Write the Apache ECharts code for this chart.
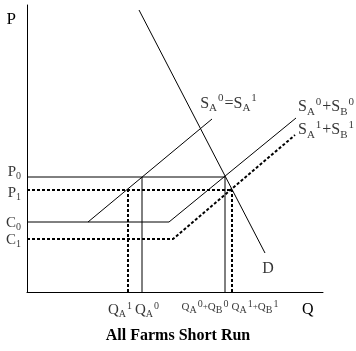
<!DOCTYPE html>
<html><head><meta charset="utf-8">
<script src="https://cdn.jsdelivr.net/npm/echarts@6/dist/echarts.min.js"></script>
<style>html,body{margin:0;padding:0;background:#fff}#c{width:356px;height:351px}</style>
</head><body><div id="c"></div>
<script>
// Price levels (y) and quantity levels (x), in chart units
const priceLabels = ['{b|P}{s|0}', '{b|P}{s|1}', '{b|C}{s|0}', '{b|C}{s|1}'];
const priceValues = [115, 102, 70, 53];
const quantityLabels = ['{b|Q}{s|A}{p|1}', '{b|Q}{s|A}{p|0}', '{m|Q}{s|A}{p|0}{x|+}{m|Q}{s|B}{p|0}', '{m|Q}{s|A}{p|1}{x|+}{m|Q}{s|B}{p|1}'];
const quantityValues = [101, 115, 198, 205];
// Curves
const supplyA = [[61, 70], [185, 173]];
const supplyAB0 = [[0, 70], [142, 70], [269, 174]];
const supplyAB1 = [[0, 53], [146, 53], [268, 157]];
const demand = [[112, 282], [238, 39]];
const curveLabels = ['{c|S}{cs|A}{cp|0}{c|=S}{cs|A}{cp|1}', '{c|S}{cs|A}{cp|0}{c|+S}{cs|B}{cp|0}', '{c|S}{cs|A}{cp|1}{c|+S}{cs|B}{cp|1}', '{c|D}'];

const FONT = 'Liberation Serif';
const rich = {
  b: {fontFamily: FONT, fontSize: 15, lineHeight: 18, verticalAlign: 'middle', color: '#000'},
  m: {fontFamily: FONT, fontSize: 11, lineHeight: 16, verticalAlign: 'middle', color: '#000'},
  x: {fontFamily: FONT, fontSize: 9, lineHeight: 16, verticalAlign: 'middle', color: '#000'},
  s: {fontFamily: FONT, fontSize: 10, lineHeight: 9, verticalAlign: 'bottom', color: '#000'},
  p: {fontFamily: FONT, fontSize: 10, lineHeight: 9, verticalAlign: 'top', color: '#000', padding: [0, 0, 0, 1]},
  c: {fontFamily: FONT, fontSize: 16, lineHeight: 21, verticalAlign: 'middle', color: '#000'},
  cs: {fontFamily: FONT, fontSize: 11, lineHeight: 10, verticalAlign: 'bottom', color: '#000'},
  cp: {fontFamily: FONT, fontSize: 11, lineHeight: 10, verticalAlign: 'top', color: '#000', padding: [0, 1, 0, 1]}
};

const solid = {color: '#000', width: 1, type: 'solid'};
const dashed = {color: '#000', width: 2, type: [3, 2]};

function line(data, style) {
  return {type: 'line', data: data, symbol: 'none', lineStyle: style, silent: true, z: 2};
}

const series = [];
series.push(line(supplyA, solid));
series.push(line(supplyAB0, solid));
series.push(line(supplyAB1, dashed));
series.push(line(demand, solid));
// P0 and P1 horizontals to the market quantities
series.push(line([[0, priceValues[0]], [quantityValues[2], priceValues[0]]], solid));
series.push(line([[0, priceValues[1]], [quantityValues[3], priceValues[1]]], dashed));
// verticals down from equilibria
series.push(line([[quantityValues[0], 0], [quantityValues[0], priceValues[1]]], dashed));
series.push(line([[quantityValues[1], 0], [quantityValues[1], priceValues[0]]], solid));
series.push(line([[quantityValues[2], 0], [quantityValues[2], priceValues[0]]], solid));
series.push(line([[quantityValues[3], 0], [quantityValues[3], priceValues[1]]], dashed));

const priceOffsets = [[0, -5], [0, 3], [0, 1], [0, 1]];
const qtyOffsets = [[-8, 4], [5, 4], [-20, 2], [23, 2]];
const labelPts = [];
priceValues.forEach((v, i) => labelPts.push({value: [0, v], label: {show: true, position: 'left', distance: 6, formatter: priceLabels[i], rich: rich, offset: priceOffsets[i]}}));
quantityValues.forEach((v, i) => labelPts.push({value: [v, 0], label: {show: true, position: 'bottom', distance: 5, formatter: quantityLabels[i], rich: rich, offset: qtyOffsets[i]}}));
const ends = [supplyA, supplyAB0, supplyAB1, demand].map(d => d[d.length - 1]);
const curvePos = ['top', 'right', 'right', 'bottom'];
const curveOffsets = [[17, 0], [-3, -11], [-2, -5], [3, 0]];
ends.forEach((p, i) => labelPts.push({value: p, label: {show: true, position: curvePos[i], distance: 5, formatter: curveLabels[i], rich: rich, offset: curveOffsets[i]}}));
series.push({type: 'scatter', data: labelPts, symbolSize: 0, silent: true, z: 5});

const chart = echarts.init(document.getElementById('c'), null, {renderer: 'canvas'});
chart.setOption({
  animation: false,
  backgroundColor: '#fff',
  title: {text: 'All Farms Short Run', left: 'center', top: 328, padding: 0,
    textStyle: {fontFamily: FONT, fontSize: 16, fontWeight: 'bold', color: '#000'}},
  grid: {left: 27, top: 5, width: 296, height: 287, containLabel: false},
  xAxis: {type: 'value', min: 0, max: 296, splitLine: {show: false}, axisTick: {show: false}, axisLabel: {show: false},
    axisLine: {show: true, lineStyle: {color: '#000', width: 1}},
    name: 'Q', nameLocation: 'end', nameGap: -21,
    nameTextStyle: {fontFamily: FONT, fontSize: 16, color: '#000', align: 'left', verticalAlign: 'top', padding: [10, 0, 0, 0]}},
  yAxis: {type: 'value', min: 0, max: 287, splitLine: {show: false}, axisTick: {show: false}, axisLabel: {show: false},
    axisLine: {show: true, lineStyle: {color: '#000', width: 1}},
    name: 'P', nameLocation: 'end', nameGap: -15,
    nameTextStyle: {fontFamily: FONT, fontSize: 17, color: '#000', align: 'right', verticalAlign: 'middle', padding: [0, 11, 0, 0]}},
  series: series
});
</script></body></html>
